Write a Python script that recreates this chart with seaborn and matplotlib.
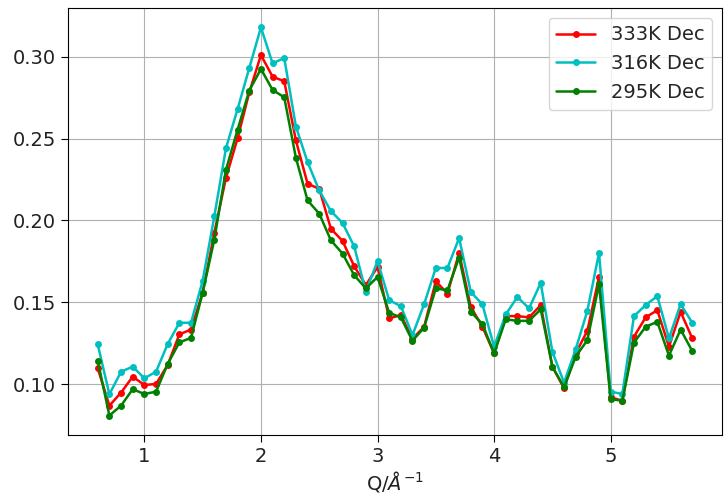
import numpy as np
import pandas as pd
import matplotlib
matplotlib.use("Agg")
import matplotlib.pyplot as plt
import seaborn as sns

# Momentum transfer grid (1/Angstrom)
q = [round(0.6 + 0.1 * i, 1) for i in range(52)]

# Structure factor curves at three temperatures
s_333k = [0.1096, 0.0868, 0.0947, 0.1045, 0.0994, 0.1000, 0.1116, 0.1303, 0.1333, 0.1559,
          0.1923, 0.2260, 0.2502, 0.2782, 0.3010, 0.2878, 0.2850, 0.2488, 0.2224, 0.2193,
          0.1949, 0.1874, 0.1720, 0.1604, 0.1715, 0.1401, 0.1421, 0.1277, 0.1350, 0.1628,
          0.1553, 0.1801, 0.1471, 0.1350, 0.1187, 0.1415, 0.1415, 0.1407, 0.1482, 0.1106,
          0.0974, 0.1187, 0.1325, 0.1654, 0.0919, 0.0898, 0.1289, 0.1407, 0.1451, 0.1228,
          0.1441, 0.1279]
s_316k = [0.1242, 0.0937, 0.1075, 0.1106, 0.1035, 0.1075, 0.1244, 0.1374, 0.1374, 0.1630,
          0.2024, 0.2441, 0.2681, 0.2931, 0.3179, 0.2959, 0.2992, 0.2573, 0.2356, 0.2183,
          0.2057, 0.1984, 0.1841, 0.1563, 0.1752, 0.1512, 0.1476, 0.1299, 0.1488, 0.1709,
          0.1709, 0.1892, 0.1563, 0.1486, 0.1228, 0.1425, 0.1532, 0.1462, 0.1618, 0.1197,
          0.1008, 0.1212, 0.1447, 0.1801, 0.0953, 0.0939, 0.1415, 0.1482, 0.1537, 0.1279,
          0.1488, 0.1374]
s_295k = [0.1142, 0.0807, 0.0868, 0.0968, 0.0939, 0.0953, 0.1122, 0.1254, 0.1282, 0.1557,
          0.1882, 0.2309, 0.2555, 0.2793, 0.2925, 0.2797, 0.2752, 0.2382, 0.2122, 0.2041,
          0.1878, 0.1797, 0.1665, 0.1584, 0.1654, 0.1435, 0.1407, 0.1264, 0.1345, 0.1584,
          0.1573, 0.1773, 0.1441, 0.1366, 0.1187, 0.1395, 0.1386, 0.1386, 0.1456, 0.1106,
          0.0980, 0.1167, 0.1268, 0.1610, 0.0907, 0.0898, 0.1252, 0.1350, 0.1380, 0.1173,
          0.1333, 0.1201]

labels = ["333K Dec", "316K Dec", "295K Dec"]
colors = ["#ff0000", "#00bfbf", "#008000"]

sns.set_style("ticks")
plt.rcParams["font.family"] = ["DejaVu Sans"]

fig = plt.figure(figsize=(7.24, 4.99), dpi=100)
ax = fig.add_axes([68 / 724, 64 / 499, 654 / 724, 427 / 499])

for series, lab, col in zip([s_333k, s_316k, s_295k], labels, colors):
    sns.lineplot(x=q, y=series, ax=ax, color=col, marker="o", markersize=5,
                 markeredgewidth=0, linewidth=1.8, label=lab)

ax.grid(True, color="#b0b0b0", linewidth=0.8)
ax.set_axisbelow(True)
for sp in ax.spines.values():
    sp.set_color("black")
    sp.set_linewidth(0.8)
ax.tick_params(labelsize=14, length=5, width=0.8, pad=3.5, color="black", labelcolor="#222222")
ax.set_xlabel(r"Q/$\AA^{-1}$", fontsize=14, color="#222222", labelpad=2)
ax.legend(loc="upper right", fontsize=14, frameon=True, fancybox=True, framealpha=0.8,
          edgecolor="#cccccc", handlelength=2, borderaxespad=0.5)

fig.savefig("out.png", dpi=100)
